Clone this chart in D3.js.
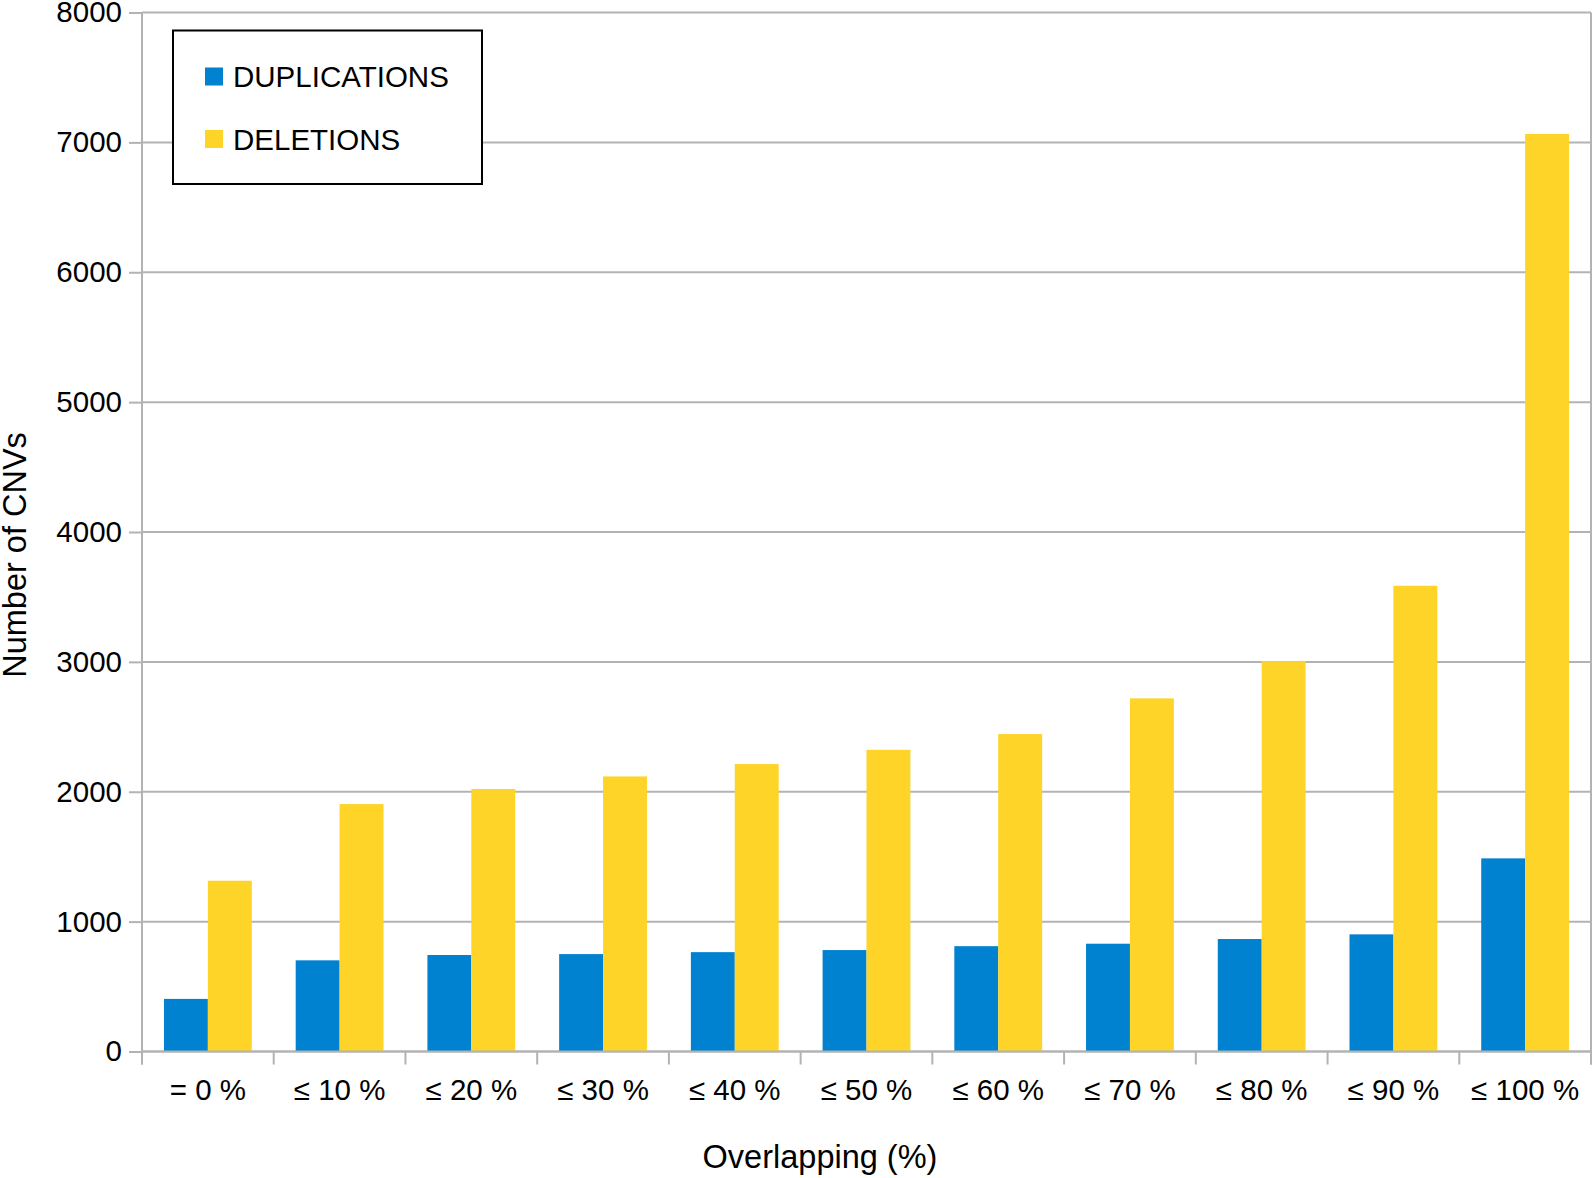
<!DOCTYPE html>
<html>
<head>
<meta charset="utf-8">
<script src="https://cdn.jsdelivr.net/npm/d3@7"></script>
<style>
  body { margin: 0; background: #fff; }
  svg { display: block; font-family: "Liberation Sans", Arial, sans-serif; }
</style>
</head>
<body>
<svg id="chart"></svg>
<script>
const categories = ['= 0 %', '≤ 10 %', '≤ 20 %', '≤ 30 %', '≤ 40 %', '≤ 50 %', '≤ 60 %', '≤ 70 %', '≤ 80 %', '≤ 90 %', '≤ 100 %'];
const duplications = [405, 702, 743, 750, 765, 781, 811, 830, 866, 902, 1487];
const deletions = [1315, 1905, 2021, 2118, 2213, 2323, 2444, 2719, 3006, 3586, 7065];
const seriesNames = ['DUPLICATIONS', 'DELETIONS'];
const seriesColors = ['#0082d1', '#fdd427'];
const yTicks = [0, 1000, 2000, 3000, 4000, 5000, 6000, 7000, 8000];

const W = 1594, H = 1178;
const margin = { top: 12.5, right: 3, bottom: 126.5, left: 142 };
const width = W - margin.left - margin.right;
const height = H - margin.top - margin.bottom;
const gridColor = '#b3b3b3';
const labelSize = 29.5;
const titleSize = 32.5;

const svg = d3.select('#chart').attr('width', W).attr('height', H);
const g = svg.append('g').attr('transform', `translate(${margin.left},${margin.top})`);

const data = categories.map((c, i) => ({ cat: c, values: [duplications[i], deletions[i]] }));

// scales
const x0 = d3.scaleBand().domain(categories).range([0, width]).padding(0);
const x1 = d3.scaleBand().domain(seriesNames).range([0, x0.bandwidth()]).paddingInner(0).paddingOuter(0.5);
const y = d3.scaleLinear().domain([0, 8000]).range([height, 0]);

// y axis ticks + labels
const yAxis = g.append('g')
  .call(d3.axisLeft(y).tickValues(yTicks).tickFormat(d3.format('d')).tickSize(13).tickPadding(7));
yAxis.select('.domain').remove();
yAxis.selectAll('line').attr('stroke', gridColor).attr('stroke-width', 2);
yAxis.selectAll('text').attr('font-size', labelSize).attr('fill', '#000').attr('font-family', null);

// gridlines
g.append('g').selectAll('line')
  .data(yTicks)
  .enter().append('line')
  .attr('x1', 0).attr('x2', width)
  .attr('y1', d => y(d)).attr('y2', d => y(d))
  .attr('stroke', gridColor).attr('stroke-width', 2);

// left/right frame lines and category boundary ticks
const bounds = categories.map(c => x0(c)).concat([width]);
g.append('line').attr('x1', 0).attr('x2', 0).attr('y1', 0).attr('y2', height + 13)
  .attr('stroke', gridColor).attr('stroke-width', 2);
g.append('line').attr('x1', width).attr('x2', width).attr('y1', 0).attr('y2', height + 13)
  .attr('stroke', gridColor).attr('stroke-width', 2);
g.append('g').selectAll('line')
  .data(bounds)
  .enter().append('line')
  .attr('x1', d => d).attr('x2', d => d)
  .attr('y1', height).attr('y2', height + 13)
  .attr('stroke', gridColor).attr('stroke-width', 2);

// bars
const groups = g.append('g').selectAll('g')
  .data(data)
  .enter().append('g')
  .attr('transform', d => `translate(${x0(d.cat)},0)`);

groups.selectAll('rect')
  .data(d => d.values.map((v, i) => ({ key: seriesNames[i], value: v, color: seriesColors[i] })))
  .enter().append('rect')
  .attr('x', d => x1(d.key))
  .attr('width', x1.bandwidth())
  .attr('y', d => y(d.value))
  .attr('height', d => y(0) - y(d.value))
  .attr('fill', d => d.color);

// baseline over the bars
g.append('line').attr('x1', 0).attr('x2', width).attr('y1', height).attr('y2', height)
  .attr('stroke', gridColor).attr('stroke-width', 2);

// x labels
const xAxis = g.append('g')
  .attr('transform', `translate(0,${height})`)
  .call(d3.axisBottom(x0).tickSize(0).tickPadding(28));
xAxis.select('.domain').remove();
xAxis.selectAll('text').attr('font-size', labelSize).attr('fill', '#000').attr('font-family', null);

// axis titles
svg.append('text')
  .attr('x', 820).attr('y', 1168)
  .attr('text-anchor', 'middle')
  .attr('font-size', titleSize)
  .text('Overlapping (%)');

svg.append('text')
  .attr('transform', 'translate(26,555) rotate(-90)')
  .attr('text-anchor', 'middle')
  .attr('font-size', titleSize)
  .text('Number of CNVs');

// legend
const legend = svg.append('g').attr('transform', 'translate(173,30.5)');
legend.append('rect')
  .attr('width', 309).attr('height', 153.5)
  .attr('fill', '#fff').attr('stroke', '#000').attr('stroke-width', 2);

seriesNames.forEach((name, i) => {
  legend.append('rect')
    .attr('x', 32).attr('y', 37 + i * 62.5)
    .attr('width', 18).attr('height', 18)
    .attr('fill', seriesColors[i]);
  legend.append('text')
    .attr('x', 60).attr('y', 56.5 + i * 62.5)
    .attr('font-size', labelSize)
    .text(name);
});
</script>
</body>
</html>
